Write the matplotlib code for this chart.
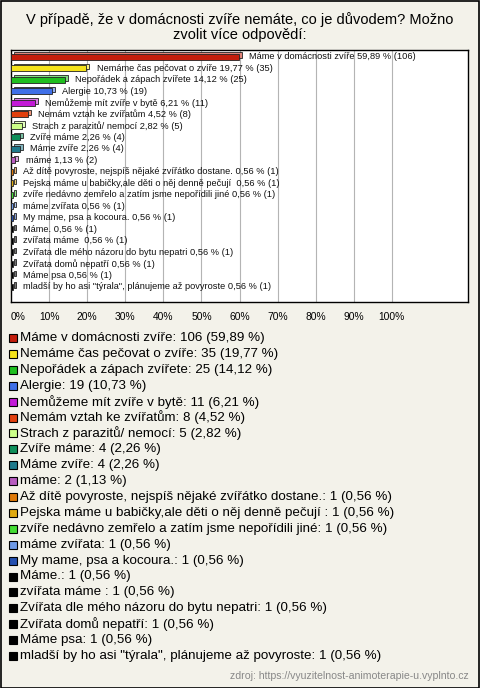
import matplotlib.pyplot as plt
from matplotlib.patches import Rectangle

plt.rcParams['font.family'] = ['Liberation Sans', 'DejaVu Sans']

# ---- data ----
labels = [
    "Máme v domácnosti zvíře",
    "Nemáme čas pečovat o zvíře",
    "Nepořádek a zápach zvířete",
    "Alergie",
    "Nemůžeme mít zvíře v bytě",
    "Nemám vztah ke zvířatům",
    "Strach z parazitů/ nemocí",
    "Zvíře máme",
    "Máme zvíře",
    "máme",
    "Až dítě povyroste, nejspíš nějaké zvířátko dostane.",
    "Pejska máme u babičky,ale děti o něj denně pečují ",
    "zvíře nedávno zemřelo a zatím jsme nepořídili jiné",
    "máme zvířata",
    "My mame, psa a kocoura.",
    "Máme.",
    "zvířata máme ",
    "Zvířata dle mého názoru do bytu nepatri",
    "Zvířata domů nepatří",
    "Máme psa",
    "mladší by ho asi \"týrala\", plánujeme až povyroste",
]
counts = [106, 35, 25, 19, 11, 8, 5, 4, 4, 2, 1, 1, 1, 1, 1, 1, 1, 1, 1, 1, 1]
pcts = [59.89, 19.77, 14.12, 10.73, 6.21, 4.52, 2.82, 2.26, 2.26, 1.13,
        0.56, 0.56, 0.56, 0.56, 0.56, 0.56, 0.56, 0.56, 0.56, 0.56, 0.56]
colors = ["#c41e0c", "#f5e31a", "#1fbf1f", "#3f6fe8", "#c21ad6", "#e2400e",
          "#ccff88", "#0e8f5a", "#1f7a8c", "#b85cc0", "#e07a0a", "#e0aa10",
          "#44dd33", "#6f9ae6", "#2550b0", "#000000", "#000000", "#000000",
          "#000000", "#000000", "#000000"]
xticks = [0, 10, 20, 30, 40, 50, 60, 70, 80, 90, 100]

title = "V případě, že v domácnosti zvíře nemáte, co je důvodem? Možno\nzvolit více odpovědí:"
source = "zdroj: https://vyuzitelnost-animoterapie-u.vyplnto.cz"

W, H = 480, 688
bg = "#f3f2ea"

def fmt(v):
    return f"{v:.2f}".replace(".", ",")

def lighten(c, f=0.45):
    c = c.lstrip("#")
    r, g, b = (int(c[i:i + 2], 16) / 255 for i in (0, 2, 4))
    return (r + (1 - r) * f, g + (1 - g) * f, b + (1 - b) * f)

fig = plt.figure(figsize=(W / 100, H / 100), dpi=100, facecolor=bg)

# outer frame
fig.patches.append(Rectangle((0.5 / W, 0.5 / H), 1 - 1.5 / W, 1 - 1.5 / H,
                             transform=fig.transFigure, fill=False,
                             edgecolor="black", linewidth=1.2))

fig.text(0.5, 1 - 12 / H, title, ha="center", va="top", fontsize=10.5,
         linespacing=1.05)

# ---- bar chart ----
ax = fig.add_axes([11 / W, 1 - 302 / H, 457 / W, 252 / H])
ax.set_facecolor("white")
ax.set_xlim(0, 120)
ax.set_ylim(21.33, -0.58)

for x in xticks[1:]:
    ax.axvline(x, color="#b4b4b4", linewidth=0.8, zorder=0)

ypos = list(range(len(labels)))
# back face for the 3D look
ax.barh([y - 0.15 for y in ypos], pcts, left=0.8, height=0.5,
        color=[lighten(c) for c in colors], edgecolor="#222222",
        linewidth=0.6, zorder=2)
ax.barh(ypos, pcts, height=0.5, color=colors, edgecolor="#222222",
        linewidth=0.6, zorder=3)

for y, lab, p, n in zip(ypos, labels, pcts, counts):
    ax.text(p + 2.7, y, f"{lab} {fmt(p)} % ({n})", va="center", ha="left",
            fontsize=6.7, color="#111111", zorder=4)

ax.set_yticks([])
ax.set_xticks(xticks)
ax.set_xticklabels([f"{x}%" for x in xticks], fontsize=7.4)
ax.get_xticklabels()[0].set_ha("left")
ax.tick_params(axis="x", length=0, pad=7)
for s in ax.spines.values():
    s.set_color("black")
    s.set_linewidth(1)

# ---- legend ----
for i, (lab, n, p, c) in enumerate(zip(labels, counts, pcts, colors)):
    yc = 338 + i * 15.9
    fig.patches.append(Rectangle((9 / W, 1 - (yc + 4) / H), 8 / W, 8 / H,
                                 transform=fig.transFigure, facecolor=c,
                                 edgecolor="black", linewidth=0.8))
    fig.text(20 / W, 1 - yc / H, f"{lab}: {n} ({fmt(p)} %)", ha="left",
             va="center", fontsize=9.6, color="black")

fig.text(469 / W, 1 - 676 / H, source, ha="right", va="center",
         fontsize=7.6, color="#888888")

fig.savefig("out.png", dpi=100, facecolor=bg)
